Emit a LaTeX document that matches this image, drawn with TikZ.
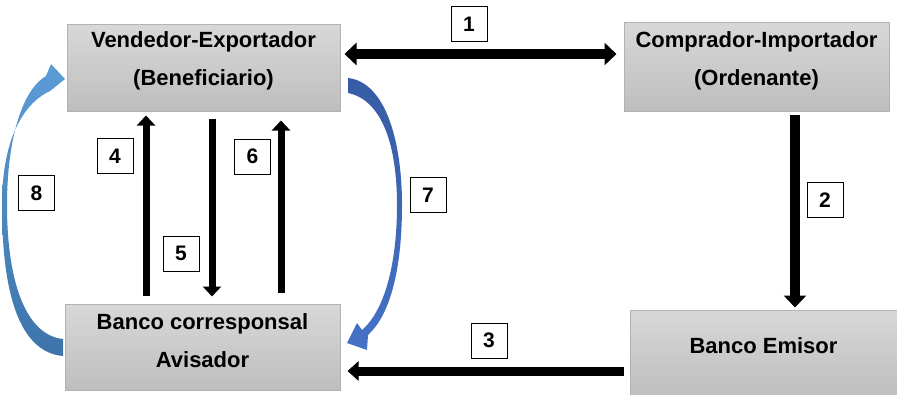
\documentclass[tikz,border=0pt]{standalone}
\usepackage{fontspec}
\setmainfont{Liberation Sans}
\usetikzlibrary{arrows.meta}
\definecolor{boxtop}{RGB}{216,216,216}
\definecolor{boxbot}{RGB}{190,190,190}
\definecolor{boxline}{RGB}{178,178,178}
\definecolor{sevtop}{RGB}{55,92,165}
\definecolor{sevbot}{RGB}{70,114,198}
\definecolor{eigtop}{RGB}{92,156,214}
\definecolor{eigbot}{RGB}{60,116,170}
\tikzset{
  partybox/.style={draw=boxline, line width=1pt, top color=boxtop, bottom color=boxbot, inner sep=0pt},
  boxtext/.style={font=\bfseries\fontsize{22}{38}\selectfont, align=center, inner sep=0pt},
  numbox/.style={draw=black, fill=white, line width=0.8pt, minimum width=36pt, minimum height=35pt, inner sep=0pt, font=\bfseries\fontsize{21}{24}\selectfont},
  bigarrow/.style={line width=10pt, -{Triangle[width=22pt,length=12pt]}},
  midarrow/.style={line width=9pt, -{Triangle[width=19pt,length=11pt]}},
  smallarrow/.style={line width=7pt, -{Triangle[width=18pt,length=10pt]}}
}
\begin{document}
\begin{tikzpicture}[x=1pt,y=-1pt]
\useasboundingbox (0,0) rectangle (897,394);
\fill[white] (0,0) rectangle (897,394);
% boxes
\node[partybox, minimum width=273pt, minimum height=87pt] (ve) at (203.5,67.5) {};
\node[partybox, minimum width=265pt, minimum height=89pt] (ci) at (756.5,66.5) {};
\node[partybox, minimum width=275pt, minimum height=86pt] (bc) at (202.5,347) {};
\node[partybox, minimum width=267pt, minimum height=86pt] (be) at (763.5,353) {};
\node[boxtext] (vet) at (203.5,61) {Vendedor-Exportador\\(Beneficiario)};
\node[boxtext] (cit) at (756.5,61) {Comprador-Importador\\(Ordenante)};
\node[boxtext] (bct) at (202.5,341) {Banco corresponsal\\Avisador};
\node[boxtext] (bet) at (763.5,346) {Banco Emisor};
% straight arrows
\draw[line width=10pt, {Triangle[width=22pt,length=12pt]}-{Triangle[width=22pt,length=12pt]}, shorten <=4pt, shorten >=7pt]
  ([yshift=13.5pt]ve.east) -- ([yshift=12.5pt]ci.west);
\draw[bigarrow, shorten <=3pt, shorten >=2pt] ([xshift=38.5pt]ci.south) -- ([xshift=38.5pt]ci.south |- be.north);
\draw[midarrow, shorten <=6pt, shorten >=7pt] ([yshift=-18pt]be.west) -- ([yshift=-24pt]bc.east);
\draw[smallarrow, shorten <=8pt, shorten >=4pt] ([xshift=-56.5pt]bc.north) -- ([xshift=-57.5pt]ve.south);
\draw[smallarrow, shorten <=7pt, shorten >=7pt] ([xshift=8.5pt]ve.south) -- ([xshift=9.5pt]bc.north);
\draw[smallarrow, shorten <=11pt, shorten >=9pt] ([xshift=78.5pt]bc.north) -- ([xshift=77.5pt]ve.south);
% curved arrows
\shade[top color=sevtop, bottom color=sevbot]
  (348,78) .. controls (385,82) and (402,140) .. (402,205)
  .. controls (402,270) and (390,315) .. (368,335)
  -- (367,350) -- (347,343) -- (357,323) -- (362,330)
  .. controls (383,312) and (397,268) .. (397,205)
  .. controls (397,145) and (382,100) .. (348,93) -- cycle;
\shade[top color=eigtop, bottom color=eigbot]
  (63,356) .. controls (18,352) and (2,290) .. (2,205)
  .. controls (2,145) and (20,105) .. (50,91)
  -- (65,79) -- (51,64) -- (46,76)
  .. controls (22,90) and (7,140) .. (7,205)
  .. controls (7,280) and (25,335) .. (63,339) -- cycle;
% number labels
\node[numbox] (n1) at (469,24) {1};
\node[numbox] (n2) at (825,200) {2};
\node[numbox] (n3) at (489,340.5) {3};
\node[numbox] (n4) at (115,156) {4};
\node[numbox] (n5) at (181,253.5) {5};
\node[numbox] (n6) at (252.5,156.5) {6};
\node[numbox] (n7) at (428,195) {7};
\node[numbox] (n8) at (36.5,193) {8};
\end{tikzpicture}
\end{document}
